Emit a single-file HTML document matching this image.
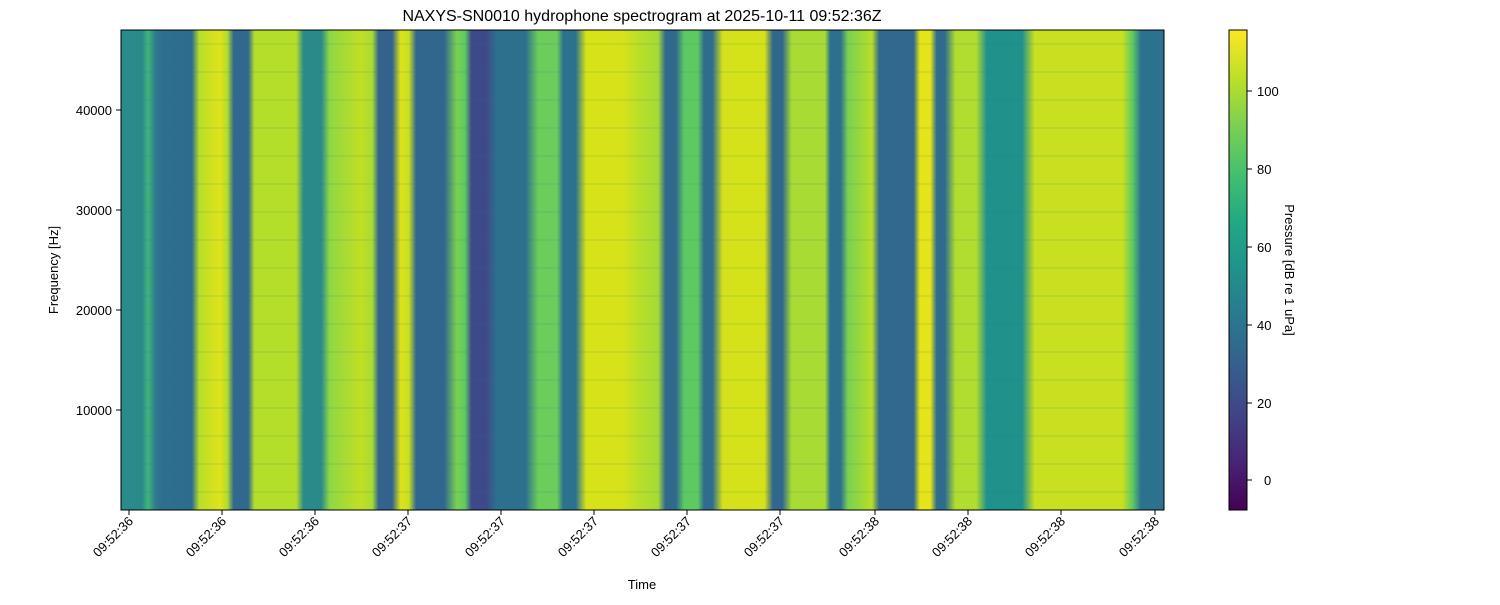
<!DOCTYPE html>
<html><head><meta charset="utf-8"><style>
body{margin:0;background:#fff;}
svg text{font-family:"Liberation Sans","DejaVu Sans",sans-serif;fill:#000;}
</style></head><body>
<svg width="1500" height="600" xmlns="http://www.w3.org/2000/svg">
<defs>
<linearGradient id="sp" gradientUnits="userSpaceOnUse" x1="121" y1="0" x2="1164" y2="0">
<stop offset="0" stop-color="#2a8c8a"/>
<stop offset="0.02" stop-color="#2a8a8a"/>
<stop offset="0.026" stop-color="#3fb57a"/>
<stop offset="0.033" stop-color="#2f7a8e"/>
<stop offset="0.04" stop-color="#2e6e8e"/>
<stop offset="0.068" stop-color="#2e6c8e"/>
<stop offset="0.075" stop-color="#b8de29"/>
<stop offset="0.095" stop-color="#e0e31a"/>
<stop offset="0.102" stop-color="#b0dd2f"/>
<stop offset="0.108" stop-color="#31688e"/>
<stop offset="0.122" stop-color="#31688e"/>
<stop offset="0.128" stop-color="#b5de2b"/>
<stop offset="0.168" stop-color="#b5de2b"/>
<stop offset="0.175" stop-color="#2a8a8a"/>
<stop offset="0.192" stop-color="#2a8a8a"/>
<stop offset="0.2" stop-color="#8fd744"/>
<stop offset="0.23" stop-color="#c2df23"/>
<stop offset="0.241" stop-color="#a8db34"/>
<stop offset="0.247" stop-color="#33638d"/>
<stop offset="0.26" stop-color="#33638d"/>
<stop offset="0.268" stop-color="#dde318"/>
<stop offset="0.276" stop-color="#c8e020"/>
<stop offset="0.283" stop-color="#31678e"/>
<stop offset="0.31" stop-color="#31678e"/>
<stop offset="0.322" stop-color="#7ad151"/>
<stop offset="0.33" stop-color="#5ec962"/>
<stop offset="0.336" stop-color="#3e4989"/>
<stop offset="0.35" stop-color="#3e4989"/>
<stop offset="0.36" stop-color="#2d708e"/>
<stop offset="0.388" stop-color="#2d708e"/>
<stop offset="0.4" stop-color="#6ccd5a"/>
<stop offset="0.418" stop-color="#6ccd5a"/>
<stop offset="0.424" stop-color="#2c728e"/>
<stop offset="0.436" stop-color="#2c728e"/>
<stop offset="0.446" stop-color="#d8e219"/>
<stop offset="0.48" stop-color="#d8e219"/>
<stop offset="0.5" stop-color="#b5de2b"/>
<stop offset="0.515" stop-color="#a5db36"/>
<stop offset="0.522" stop-color="#31688e"/>
<stop offset="0.532" stop-color="#31688e"/>
<stop offset="0.54" stop-color="#5ec962"/>
<stop offset="0.553" stop-color="#5ec962"/>
<stop offset="0.559" stop-color="#2f6c8e"/>
<stop offset="0.567" stop-color="#2f6c8e"/>
<stop offset="0.577" stop-color="#d5e21a"/>
<stop offset="0.617" stop-color="#d5e21a"/>
<stop offset="0.625" stop-color="#30678d"/>
<stop offset="0.634" stop-color="#30678d"/>
<stop offset="0.643" stop-color="#a8db34"/>
<stop offset="0.675" stop-color="#a8db34"/>
<stop offset="0.68" stop-color="#2d708e"/>
<stop offset="0.69" stop-color="#2d708e"/>
<stop offset="0.697" stop-color="#7ad151"/>
<stop offset="0.72" stop-color="#b8de29"/>
<stop offset="0.727" stop-color="#31688e"/>
<stop offset="0.76" stop-color="#31688e"/>
<stop offset="0.766" stop-color="#e5e419"/>
<stop offset="0.776" stop-color="#e5e419"/>
<stop offset="0.782" stop-color="#2f6c8e"/>
<stop offset="0.79" stop-color="#2f6c8e"/>
<stop offset="0.8" stop-color="#b0dd2f"/>
<stop offset="0.82" stop-color="#b0dd2f"/>
<stop offset="0.83" stop-color="#21918c"/>
<stop offset="0.864" stop-color="#21918c"/>
<stop offset="0.876" stop-color="#c8e020"/>
<stop offset="0.96" stop-color="#c8e020"/>
<stop offset="0.97" stop-color="#5ec962"/>
<stop offset="0.978" stop-color="#2c728e"/>
<stop offset="1" stop-color="#2c728e"/>
</linearGradient>
<linearGradient id="vir" x1="0" y1="1" x2="0" y2="0">
<stop offset="0" stop-color="#440154"/>
<stop offset="0.1" stop-color="#482475"/>
<stop offset="0.2" stop-color="#414487"/>
<stop offset="0.3" stop-color="#355f8d"/>
<stop offset="0.4" stop-color="#2a788e"/>
<stop offset="0.5" stop-color="#21918c"/>
<stop offset="0.6" stop-color="#22a884"/>
<stop offset="0.7" stop-color="#44bf70"/>
<stop offset="0.8" stop-color="#7ad151"/>
<stop offset="0.9" stop-color="#bddf26"/>
<stop offset="1" stop-color="#fde725"/>
</linearGradient>
<pattern id="hb" width="10" height="28" patternUnits="userSpaceOnUse" y="30">
<rect x="0" y="13" width="10" height="2" fill="#2a788e" opacity="0.1"/>
</pattern>
</defs>
<text x="642" y="21" font-size="16" text-anchor="middle">NAXYS-SN0010 hydrophone spectrogram at 2025-10-11 09:52:36Z</text>
<rect x="121" y="30" width="1043" height="480" fill="url(#sp)"/>
<rect x="121" y="30" width="1043" height="480" fill="url(#hb)"/>
<rect x="121" y="30" width="1043" height="480" fill="none" stroke="#000" stroke-width="1"/>
<g stroke="#000">
<line x1="116" y1="410" x2="121" y2="410"/><line x1="116" y1="310" x2="121" y2="310"/>
<line x1="116" y1="210" x2="121" y2="210"/><line x1="116" y1="110" x2="121" y2="110"/>
</g>
<g font-size="13" text-anchor="end">
<text x="112" y="415">10000</text><text x="112" y="315">20000</text>
<text x="112" y="215">30000</text><text x="112" y="115">40000</text>
</g>
<text transform="translate(58,270) rotate(-90)" font-size="13" text-anchor="middle">Frequency [Hz]</text>
<g stroke="#000">
<line x1="129" y1="510" x2="129" y2="515"/><line x1="222" y1="510" x2="222" y2="515"/>
<line x1="315" y1="510" x2="315" y2="515"/><line x1="408" y1="510" x2="408" y2="515"/>
<line x1="501" y1="510" x2="501" y2="515"/><line x1="594" y1="510" x2="594" y2="515"/>
<line x1="687" y1="510" x2="687" y2="515"/><line x1="780" y1="510" x2="780" y2="515"/>
<line x1="875" y1="510" x2="875" y2="515"/><line x1="968" y1="510" x2="968" y2="515"/>
<line x1="1061" y1="510" x2="1061" y2="515"/><line x1="1155" y1="510" x2="1155" y2="515"/>
</g>
<g font-size="13" text-anchor="end">
<text transform="translate(134,522) rotate(-45)">09:52:36</text>
<text transform="translate(227,522) rotate(-45)">09:52:36</text>
<text transform="translate(320,522) rotate(-45)">09:52:36</text>
<text transform="translate(413,522) rotate(-45)">09:52:37</text>
<text transform="translate(506,522) rotate(-45)">09:52:37</text>
<text transform="translate(599,522) rotate(-45)">09:52:37</text>
<text transform="translate(692,522) rotate(-45)">09:52:37</text>
<text transform="translate(785,522) rotate(-45)">09:52:37</text>
<text transform="translate(880,522) rotate(-45)">09:52:38</text>
<text transform="translate(973,522) rotate(-45)">09:52:38</text>
<text transform="translate(1066,522) rotate(-45)">09:52:38</text>
<text transform="translate(1160,522) rotate(-45)">09:52:38</text>
</g>
<text x="642" y="589" font-size="13" text-anchor="middle">Time</text>
<rect x="1229" y="30" width="18" height="480" fill="url(#vir)" stroke="#000" stroke-width="1"/>
<g stroke="#000">
<line x1="1247" y1="480" x2="1252" y2="480"/><line x1="1247" y1="403" x2="1252" y2="403"/>
<line x1="1247" y1="325" x2="1252" y2="325"/><line x1="1247" y1="247" x2="1252" y2="247"/>
<line x1="1247" y1="169" x2="1252" y2="169"/><line x1="1247" y1="91" x2="1252" y2="91"/>
</g>
<g font-size="13">
<text x="1264" y="485">0</text><text x="1257" y="408">20</text><text x="1257" y="330">40</text>
<text x="1257" y="252">60</text><text x="1257" y="174">80</text><text x="1257" y="96">100</text>
</g>
<text transform="translate(1285,270) rotate(90)" font-size="13" text-anchor="middle">Pressure [dB re 1 uPa]</text>
</svg>
</body></html>
